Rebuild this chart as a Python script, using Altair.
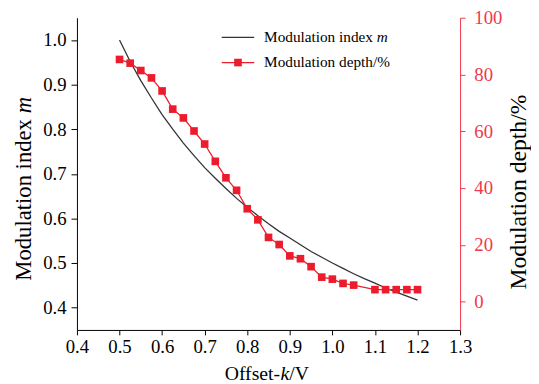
import altair as alt
import pandas as pd

# ---- data ----
offset_m = [0.5, 0.525, 0.55, 0.575, 0.6, 0.625, 0.65, 0.675, 0.7, 0.725, 0.75,
            0.775, 0.8, 0.825, 0.85, 0.875, 0.9, 0.925, 0.95, 0.975, 1.0, 1.025,
            1.05, 1.075, 1.1, 1.125, 1.15, 1.175, 1.2]
mod_index = [1.000, 0.952, 0.909, 0.870, 0.833, 0.800, 0.769, 0.741, 0.714, 0.690,
             0.667, 0.645, 0.625, 0.606, 0.588, 0.571, 0.556, 0.541, 0.526, 0.513,
             0.500, 0.488, 0.476, 0.465, 0.455, 0.444, 0.435, 0.426, 0.417]

offset_depth = [0.5, 0.525, 0.55, 0.575, 0.6, 0.625, 0.65, 0.675, 0.7, 0.725, 0.75,
                0.775, 0.8, 0.825, 0.85, 0.875, 0.9, 0.925, 0.95, 0.975, 1.0, 1.025,
                1.05, 1.1, 1.125, 1.15, 1.175, 1.2]
mod_depth = [85.3, 84.0, 81.4, 78.8, 74.2, 67.8, 64.7, 60.1, 55.5, 49.4, 43.6,
             39.2, 32.7, 28.8, 22.6, 20.1, 16.1, 15.1, 12.3, 8.6, 7.9, 6.4,
             5.8, 4.2, 4.2, 4.2, 4.2, 4.2]

x_ticks = [0.4, 0.5, 0.6, 0.7, 0.8, 0.9, 1.0, 1.1, 1.2, 1.3]
left_ticks = [0.4, 0.5, 0.6, 0.7, 0.8, 0.9, 1.0]
right_ticks = [0, 20, 40, 60, 80, 100]

FONT = "Liberation Serif"
RED = "#ec1c2c"
AXRED = "#f0374b"
DARK = "#333333"

df_m = pd.DataFrame({"k": offset_m, "m": mod_index})
df_d = pd.DataFrame({"k": offset_depth, "d": mod_depth})
dummy = pd.DataFrame({"a": [0]})

x_enc = alt.X("k:Q",
              scale=alt.Scale(domain=[0.4, 1.3], nice=False, zero=False),
              axis=alt.Axis(values=x_ticks, format=".1f", title=None, tickSize=5,
                            labelPadding=3, labelFontSize=19, labelFont=FONT,
                            labelColor="black", domainColor="black", tickColor="black",
                            grid=False, labelFlush=False))

m_chart = alt.Chart(df_m).mark_line(color=DARK, strokeWidth=1.3).encode(
    x=x_enc,
    y=alt.Y("m:Q",
            scale=alt.Scale(domain=[0.35, 1.05], nice=False, zero=False),
            axis=alt.Axis(orient="left", values=left_ticks, format=".1f", title=None,
                          tickSize=6, labelPadding=5, labelFontSize=19, labelFont=FONT,
                          labelColor="black", domainColor="black", tickColor="black",
                          grid=False)),
)

depth_y = alt.Y("d:Q",
                scale=alt.Scale(domain=[-10, 100], nice=False, zero=False),
                axis=alt.Axis(orient="right", values=right_ticks, title=None,
                              tickSize=5, labelPadding=9, labelFontSize=19, labelFont=FONT,
                              labelColor=AXRED, domainColor=AXRED, tickColor=AXRED,
                              grid=False))

d_line = alt.Chart(df_d).mark_line(color=RED, strokeWidth=1.3).encode(x=x_enc, y=depth_y)
d_pts = alt.Chart(df_d).mark_square(color=RED, size=60, opacity=1).encode(x=x_enc, y=depth_y)
depth_layer = alt.layer(d_line, d_pts)


def txt(s, x, y, size, angle=0, italic=False, align="left", baseline="middle", color="black"):
    return alt.Chart(dummy).mark_text(
        text=s, font=FONT, fontSize=size, fontStyle="italic" if italic else "normal",
        angle=angle, align=align, baseline=baseline, color=color,
    ).encode(x=alt.value(x), y=alt.value(y))


annotations = [
    # left axis title
    txt("Modulation index", -54, 267, 23, angle=270),
    txt("m", -54, 97, 23, angle=270, italic=True),
    # right axis title
    txt("Modulation depth/%", 449, 177, 24, angle=270, align="center"),
    # x axis title
    txt("Offset-", 150, 368, 20, baseline="alphabetic"),
    txt("k", 206.6, 368, 20, italic=True, baseline="alphabetic"),
    txt("/V", 215.5, 368, 20, baseline="alphabetic"),
    # legend
    alt.Chart(dummy).mark_rule(color=DARK, strokeWidth=1.3).encode(
        x=alt.value(147), x2=alt.value(180), y=alt.value(20)),
    alt.Chart(dummy).mark_rule(color=RED, strokeWidth=1.3).encode(
        x=alt.value(147), x2=alt.value(180), y=alt.value(45.5)),
    alt.Chart(dummy).mark_square(color=RED, size=60, opacity=1).encode(
        x=alt.value(163.5), y=alt.value(45.5)),
    txt("Modulation index", 190, 20, 15.5),
    txt("m", 304.5, 20, 15.5, italic=True),
    txt("Modulation depth/%", 190, 45.5, 15.5),
]

chart = alt.layer(m_chart, depth_layer, *annotations).resolve_scale(
    y="independent"
).properties(
    width=389, height=317,
    autosize=alt.AutoSizeParams(type="none"),
    padding={"left": 70, "top": 7, "right": 72, "bottom": 52},
).configure_view(stroke=None)

chart.save("out.html", embed_options={"renderer": "svg", "actions": False})
